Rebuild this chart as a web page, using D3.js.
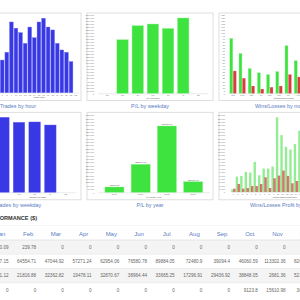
<!DOCTYPE html>
<html lang="en">
<head>
    <meta charset="UTF-8">
    <title>trading dashboard</title>
    <script src="https://d3js.org/d3.v7.min.js" charset="utf-8"></script>
    <style type="text/css">
        body {
            margin: 0;
            background: #fff;
            font-family: "Liberation Sans", Arial, sans-serif;
        }
    </style>
</head>
<body>
<script type="text/javascript">
    // ---- data ----
    const hours = d3.range(24).map(String);
    const tradesByHour = [40, 25, 20, 30, 60, 90, 130, 168, 208, 364, 332, 309, 254, 338, 283, 364, 383, 338, 323, 254, 220, 208, 160, 0];

    const weekdays = ["Su", "Mo", "Tu", "We", "Th", "Fr", "Sa"];
    const plByWeekday = [0, 177700, 224300, 230000, 215300, 250000, 0];
    const tradesByWeekday = [0, 950, 964, 900, 904, 865, 0];

    const months = ["Jan", "Feb", "Mar", "Apr", "May", "Jun", "Jul", "Aug", "Sep", "Oct", "Nov", "Dec"];
    const winsByMonth = [91, 66, 41, 34, 31, 36, 79, 54, 70, 60, 85, 75];
    const lossesByMonth = [37, 25, 12, 7, 10, 12, 31, 27, 30, 25, 35, 28];

    const years = ["2016", "2017", "2018", "2019"];
    const plByYear = [63000, 333000, 789000, 126000];

    const profitWins = [800, 4600, 4800, 6000, 5800, 9000, 5000, 7000, 7000, 7600, 22300, 17000, 13500, 12700, 14300, 18300, 15000, 12000, 9000, 8000, 6000, 4000, 2500, 1000];
    const profitLosses = [1000, 2400, 1000, 1200, 1800, 1800, 2400, 4400, 1200, 4100, 4900, 6400, 4800, 2600, 3300, 5000, 4000, 3500, 3000, 2500, 2000, 1500, 800, 400];

    const tableYears = ["2019", "2018", "2017", "2016"];
    const perf2019 = [127850.09, 239.78, 0, 0, 0, 0, 0, 0, 0, 0, 0, 0];
    const perf2018 = [47627.15, 64554.71, 47044.92, 57271.24, 62954.06, 76580.78, 89884.05, 72480.9, 39094.4, 46060.59, 113302.36, 82615.47];
    const perf2017 = [28021.12, 21816.88, 32362.82, 19478.11, 32870.67, 38964.44, 33665.25, 17296.91, 29436.92, 38848.05, 2681.36, 52104.33];
    const perf2016 = [0, 0, 0, 0, 0, 0, 0, 0, 0, 9123.8, 15610.98, 30512.6];

    let w = 300,
        h = 300;

    let svg = d3.select("body").append("svg").attr("width", w).attr("height", h);

    const titleColor = "#5b7bbf";
    const tiny = 2.3;

    // frame + caption below it
    function panel(x0, y0, caption) {
        svg.append("rect")
            .attr("x", x0).attr("y", y0)
            .attr("width", 126).attr("height", 87.5)
            .attr("fill", "#fff")
            .attr("stroke", "#d6d6d6")
            .attr("stroke-width", 0.8);
        svg.append("text")
            .attr("x", x0 + 63)
            .attr("y", y0 + 95)
            .attr("text-anchor", "middle")
            .attr("font-size", 5.4)
            .attr("fill", titleColor)
            .text(caption);
    }

    // small axes like the original dashboard (left column has its y axis off screen)
    function axes(x, y, yStep, axisX, baseY, label) {
        if (axisX > 0) {
            let yAxis = d3.axisLeft(y)
                .tickValues(d3.range(0, y.domain()[1] + 1, yStep))
                .tickSize(0)
                .tickPadding(1);
            svg.append("g")
                .attr("transform", `translate(${axisX}, 0)`)
                .call(yAxis)
                .attr("font-size", tiny)
                .call(g => g.select(".domain").remove())
                .selectAll("text").attr("fill", "#777");
        }

        let xAxis = d3.axisBottom(x).tickSize(0).tickPadding(1.2);
        svg.append("g")
            .attr("transform", `translate(0, ${baseY})`)
            .call(xAxis)
            .attr("font-size", tiny)
            .call(g => g.select(".domain").attr("stroke", "#ccc").attr("stroke-width", 0.4))
            .call(g => g.selectAll(".tick").filter(d => x(d) < 0).remove())
            .selectAll("text").attr("fill", "#777");

        let r = x.range();
        svg.append("text")
            .attr("x", (Math.max(r[0], 0) + r[1]) / 2)
            .attr("y", baseY + 5.5)
            .attr("text-anchor", "middle")
            .attr("font-size", tiny)
            .attr("fill", "#555")
            .text(label);
    }

    // ---------- Trades by hour ----------
    panel(-45, 13, "Trades by hour");
    const x1 = d3.scaleBand().domain(hours).range([-32.7, 78.4]).padding(0.2);
    const y1 = d3.scaleLinear().domain([0, 400]).range([92.7, 15]);
    axes(x1, y1, 16, -37, 92.7, "Trade hour");
    svg.append("g").selectAll("rect")
        .data(tradesByHour)
        .join("rect")
        .attr("x", (d, i) => x1(hours[i]))
        .attr("y", d => y1(d))
        .attr("width", x1.bandwidth())
        .attr("height", d => y1(0) - y1(d))
        .attr("fill", "#3838e4")
        .attr("stroke", "#6e6ef2")
        .attr("stroke-width", 0.4);

    // ---------- P/L by weekday ----------
    panel(87, 13, "P/L by weekday");
    const x2 = d3.scaleBand().domain(weekdays).range([97.9, 207.9]).padding(0.25);
    const y2 = d3.scaleLinear().domain([0, 260000]).range([93.3, 15]);
    axes(x2, y2, 10000, 95, 93.3, "P/L Weekday");
    svg.append("g").selectAll("rect")
        .data(plByWeekday)
        .join("rect")
        .attr("x", (d, i) => x2(weekdays[i]))
        .attr("y", d => y2(d))
        .attr("width", x2.bandwidth())
        .attr("height", d => y2(0) - y2(d))
        .attr("fill", "#3fe33f")
        .attr("stroke", "#8cf08c")
        .attr("stroke-width", 0.4);

    // ---------- Wins/Losses by month ----------
    panel(219, 13, "Wins/Losses by month");
    const x3 = d3.scaleBand().domain(months).range([228.4, 338.8]).paddingInner(0.2).paddingOuter(0.1);
    const x3b = d3.scaleBand().domain(["win", "loss"]).range([0, x3.bandwidth()]).padding(0.15);
    const y3 = d3.scaleLinear().domain([0, 130]).range([93.3, 15]);
    axes(x3, y3, 5, 226, 93.3, "Wins/Losses Month");
    svg.append("g").selectAll("rect")
        .data(winsByMonth)
        .join("rect")
        .attr("x", (d, i) => x3(months[i]) + x3b("win"))
        .attr("y", d => y3(d))
        .attr("width", x3b.bandwidth())
        .attr("height", d => y3(0) - y3(d))
        .attr("fill", "#3fe33f")
        .attr("stroke", "#8cf08c")
        .attr("stroke-width", 0.3);
    svg.append("g").selectAll("rect")
        .data(lossesByMonth)
        .join("rect")
        .attr("x", (d, i) => x3(months[i]) + x3b("loss"))
        .attr("y", d => y3(d))
        .attr("width", x3b.bandwidth())
        .attr("height", d => y3(0) - y3(d))
        .attr("fill", "#d63c40")
        .attr("stroke", "#e77")
        .attr("stroke-width", 0.3);

    // ---------- Trades by weekday ----------
    panel(-45, 112.3, "Trades by weekday");
    const x4 = d3.scaleBand().domain(weekdays).range([-37.8, 75.8]).padding(0.26);
    const y4 = d3.scaleLinear().domain([0, 1000]).range([192.3, 114.5]);
    axes(x4, y4, 40, -37, 192.3, "Trades Weekday");
    svg.append("g").selectAll("rect")
        .data(tradesByWeekday)
        .join("rect")
        .attr("x", (d, i) => x4(weekdays[i]))
        .attr("y", d => y4(d))
        .attr("width", x4.bandwidth())
        .attr("height", d => y4(0) - y4(d))
        .attr("fill", "#3838e4")
        .attr("stroke", "#6e6ef2")
        .attr("stroke-width", 0.4);

    // ---------- P/L by year ----------
    panel(87, 112.3, "P/L by year");
    const x5 = d3.scaleBand().domain(years).range([97.7, 209.9]).padding(0.275);
    const y5 = d3.scaleLinear().domain([0, 920000]).range([192.3, 115]);
    axes(x5, y5, 40000, 95, 192.3, "P/L Trade Year");
    svg.append("g").selectAll("rect")
        .data(plByYear)
        .join("rect")
        .attr("x", (d, i) => x5(years[i]))
        .attr("y", d => y5(d))
        .attr("width", x5.bandwidth())
        .attr("height", d => y5(0) - y5(d))
        .attr("fill", "#3fe33f")
        .attr("stroke", "#8cf08c")
        .attr("stroke-width", 0.4);
    svg.append("g").selectAll("text")
        .data(plByYear)
        .join("text")
        .attr("x", (d, i) => x5(years[i]) + x5.bandwidth() / 2)
        .attr("y", d => y5(d) - 1)
        .attr("text-anchor", "middle")
        .attr("font-size", tiny)
        .attr("fill", "#555")
        .text(d => d.toFixed(2));

    // ---------- Wins/Losses Profit by hour ----------
    panel(219, 112.3, "Wins/Losses Profit by hour");
    const x6 = d3.scaleBand().domain(hours).range([231.1, 338.4]).padding(0.03);
    const y6 = d3.scaleLinear().domain([0, 23000]).range([192, 115]);
    axes(x6, y6, 1000, 226, 192, "Wins/Losses Profit hour");
    svg.append("g").selectAll("rect")
        .data(profitWins)
        .join("rect")
        .attr("x", (d, i) => x6(hours[i]))
        .attr("y", d => y6(d))
        .attr("width", x6.bandwidth() * 0.55)
        .attr("height", d => y6(0) - y6(d))
        .attr("fill", "#3ddc3d")
        .attr("fill-opacity", 0.55);
    svg.append("g").selectAll("rect")
        .data(profitLosses)
        .join("rect")
        .attr("x", (d, i) => x6(hours[i]) + x6.bandwidth() * 0.45)
        .attr("y", d => y6(d))
        .attr("width", x6.bandwidth() * 0.55)
        .attr("height", d => y6(0) - y6(d))
        .attr("fill", "#cc2828")
        .attr("fill-opacity", 0.65);

    // ---------- monthly performance table ----------
    svg.append("text")
        .attr("x", 37)
        .attr("y", 220)
        .attr("text-anchor", "end")
        .attr("font-size", 5.6)
        .attr("font-weight", "bold")
        .attr("fill", "#333")
        .text("MONTHLY PERFORMANCE ($)");
    svg.append("line")
        .attr("x1", 0).attr("x2", w)
        .attr("y1", 225.5).attr("y2", 225.5)
        .attr("stroke", "#eee").attr("stroke-width", 0.6);

    const col = d3.scalePoint().domain(months).range([0.5, 0.5 + 11 * 27.7]);
    const rowY = d3.scaleBand().domain(tableYears).range([240, 297]);
    const tableRows = [perf2019, perf2018, perf2017, perf2016];

    svg.append("g").selectAll("rect")
        .data(tableYears)
        .join("rect")
        .attr("x", 0)
        .attr("y", d => rowY(d))
        .attr("width", w)
        .attr("height", rowY.bandwidth())
        .attr("fill", (d, i) => i % 2 == 0 ? "#f4f4f4" : "#fff");
    svg.append("g").selectAll("line")
        .data(tableYears)
        .join("line")
        .attr("x1", 0).attr("x2", w)
        .attr("y1", d => rowY(d)).attr("y2", d => rowY(d))
        .attr("stroke", (d, i) => i == 0 ? "#d8d8d8" : "#e6e6e6")
        .attr("stroke-width", 0.6);

    svg.append("g").selectAll("text")
        .data(months)
        .join("text")
        .attr("x", d => col(d))
        .attr("y", 236)
        .attr("text-anchor", "middle")
        .attr("font-size", 6)
        .attr("fill", titleColor)
        .text(d => d);

    tableRows.forEach(function (vals, r) {
        svg.append("g").selectAll("text")
            .data(vals)
            .join("text")
            .attr("x", (d, i) => col(months[i]) + 8)
            .attr("y", rowY(tableYears[r]) + rowY.bandwidth() / 2 + 1.7)
            .attr("text-anchor", "end")
            .attr("font-size", 4.6)
            .attr("fill", "#666")
            .text(d => String(d));
    });
</script>
</body>
</html>
